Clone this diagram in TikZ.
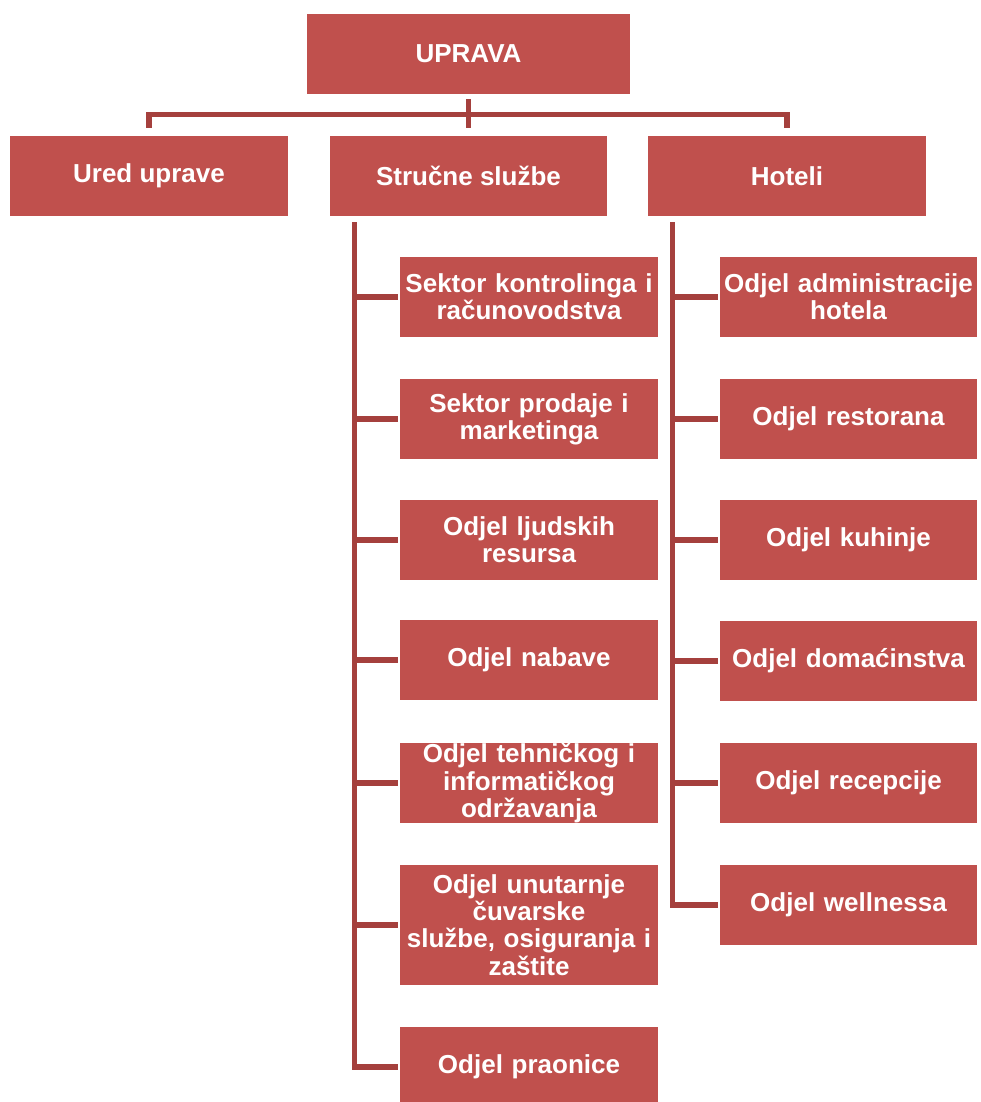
\documentclass[tikz,border=0pt]{standalone}
\usepackage{fontspec}
\setmainfont{Liberation Sans}
\definecolor{boxred}{HTML}{C0504D}
\definecolor{linered}{HTML}{A5403D}
\begin{document}
\begin{tikzpicture}[x=0.5pt,y=-0.5pt,
  box/.style={draw=none,fill=boxred,text=white,font=\fontsize{13}{13.6}\selectfont\bfseries,
    align=center,inner sep=0pt,minimum height=40pt},
  topbox/.style={box,minimum width=139pt},
  child/.style={box,minimum width=129pt,text width=128pt},
  conn/.style={draw=linered,line width=2.6pt}]
\useasboundingbox (0,0) rectangle (980,1102);
\clip (0,0) rectangle (980,1102);
% top level
\node[box,minimum width=161.5pt] (uprava) at (468.5,54) {UPRAVA};
\node[topbox] (ured) at (149,176) {Ured uprave};
\node[topbox,minimum width=138.5pt] (strucne) at (468.5,176) {Stručne službe};
\node[topbox] (hoteli) at (787,176) {Hoteli};
% Strucne sluzbe children
\node[child] (s1) at (529,297) {Sektor kontrolinga i\\računovodstva};
\node[child] (s2) at (529,419) {Sektor prodaje i\\marketinga};
\node[child] (s3) at (529,540) {Odjel ljudskih\\resursa};
\node[child] (s4) at (529,660) {Odjel nabave};
\node[child] (s5) at (529,783) {Odjel tehničkog i\\informatičkog\\održavanja};
\node[child,minimum height=60pt] (s6) at (529,925) {Odjel unutarnje\\čuvarske\\službe, osiguranja i\\zaštite};
\node[child] (s7) at (529,1067) {Odjel praonice};
% Hoteli children
\node[child,minimum width=128.5pt] (h1) at (848.5,297) {Odjel administracije\\hotela};
\node[child,minimum width=128.5pt] (h2) at (848.5,419) {Odjel restorana};
\node[child,minimum width=128.5pt] (h3) at (848.5,540) {Odjel kuhinje};
\node[child,minimum width=128.5pt] (h4) at (848.5,661) {Odjel domaćinstva};
\node[child,minimum width=128.5pt] (h5) at (848.5,783) {Odjel recepcije};
\node[child,minimum width=128.5pt] (h6) at (848.5,905) {Odjel wellnessa};
% connectors top
\draw[conn] ([yshift=4pt]ured.north) -- ([yshift=10.5pt]ured.north) -| ([yshift=4pt]hoteli.north);
\draw[conn] ([yshift=-2.5pt]uprava.south) -- ([yshift=4pt]strucne.north);
% Strucne spine
\coordinate (sp) at ([xshift=12.5pt,yshift=-3pt]strucne.south west);
\draw[conn] (sp) |- ([xshift=-1pt]s7.west);
\foreach \n in {s1,s2,s3,s4,s5,s6}
  \draw[conn] (sp |- \n.west) -- ([xshift=-1pt]\n.west);
% Hoteli spine
\coordinate (hp) at ([xshift=12.5pt,yshift=-3pt]hoteli.south west);
\draw[conn] (hp) |- ([xshift=-1pt]h6.west);
\foreach \n in {h1,h2,h3,h4,h5}
  \draw[conn] (hp |- \n.west) -- ([xshift=-1pt]\n.west);
\end{tikzpicture}
\end{document}
